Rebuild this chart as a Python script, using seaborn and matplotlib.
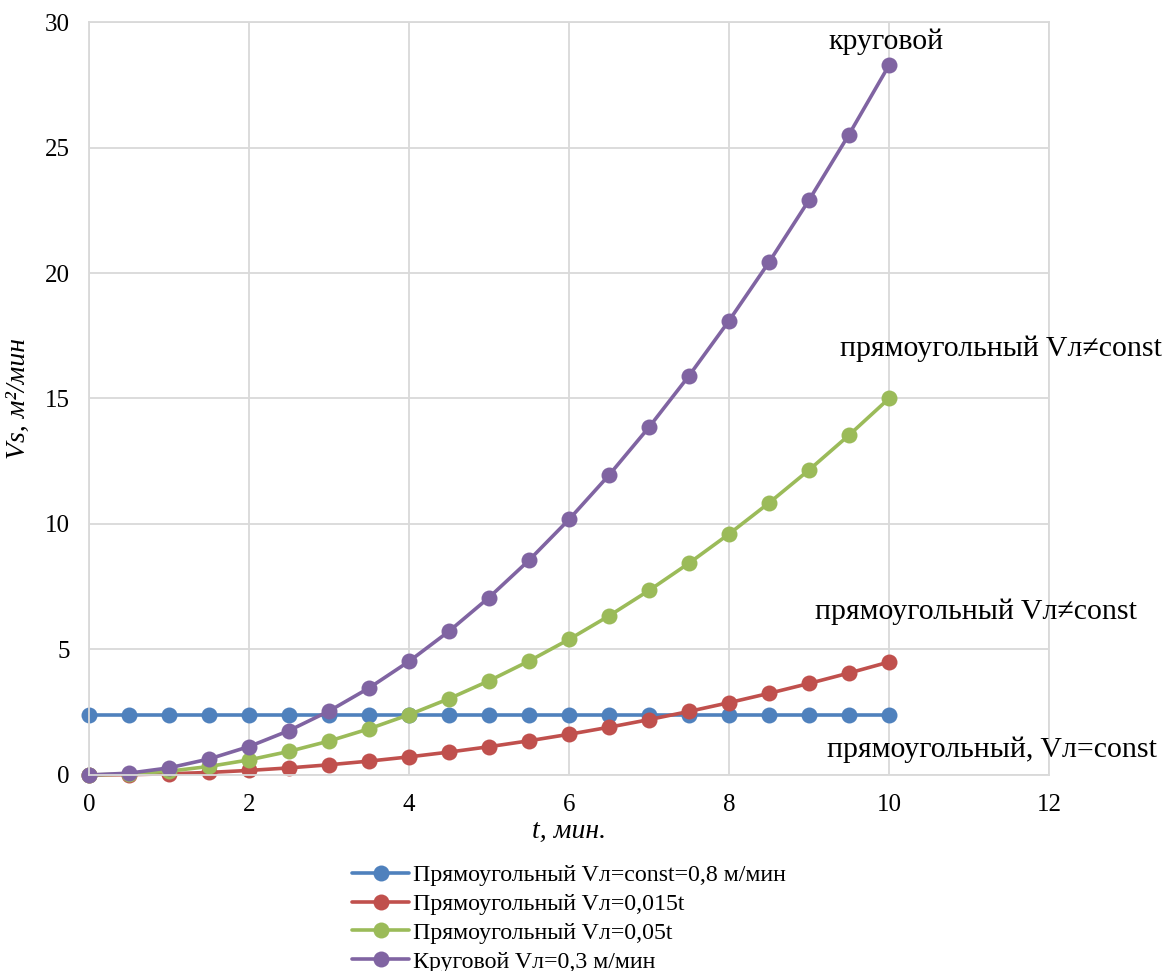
import matplotlib
matplotlib.use("Agg")
import matplotlib.pyplot as plt
import seaborn as sns
import pandas as pd

sns.set_style("white")
plt.rcParams['font.family'] = ['Liberation Serif', 'DejaVu Serif']
plt.rcParams['text.color'] = 'black'
plt.rcParams['axes.labelcolor'] = 'black'
plt.rcParams['xtick.color'] = 'black'
plt.rcParams['ytick.color'] = 'black'

# time, min
t = [0, 0.5, 1, 1.5, 2, 2.5, 3, 3.5, 4, 4.5, 5, 5.5, 6, 6.5, 7, 7.5, 8, 8.5, 9, 9.5, 10]

# Vs, m2/min
rect_const = [2.4] * 21
rect_0015t = [0, 0.011, 0.045, 0.101, 0.18, 0.281, 0.405, 0.551, 0.72, 0.911, 1.125,
              1.361, 1.62, 1.901, 2.205, 2.531, 2.88, 3.251, 3.645, 4.061, 4.5]
rect_005t = [0, 0.038, 0.15, 0.338, 0.6, 0.938, 1.35, 1.838, 2.4, 3.038, 3.75,
             4.538, 5.4, 6.338, 7.35, 8.438, 9.6, 10.838, 12.15, 13.538, 15.0]
circ_03 = [0, 0.071, 0.283, 0.636, 1.131, 1.767, 2.545, 3.464, 4.524, 5.726, 7.069,
           8.553, 10.179, 11.946, 13.854, 15.904, 18.096, 20.428, 22.902, 25.518, 28.274]

series_names = ["Прямоугольный Vл=const=0,8 м/мин",
                "Прямоугольный Vл=0,015t",
                "Прямоугольный Vл=0,05t",
                "Круговой Vл=0,3 м/мин"]
colors = ["#4F81BD", "#C0504D", "#9BBB59", "#8064A2"]

df = pd.concat([
    pd.DataFrame({"t": t, "V": vals, "series": name})
    for name, vals in zip(series_names, [rect_const, rect_0015t, rect_005t, circ_03])
])

fig = plt.figure(figsize=(11.65, 9.71), dpi=100)
ax = fig.add_axes([0.0764, 0.2019, 0.824, 0.7754])

sns.lineplot(data=df, x="t", y="V", hue="series", palette=colors,
             hue_order=series_names, marker="o", markersize=11.5,
             markeredgewidth=0, linewidth=2.6, ax=ax, sort=False)
for ln in ax.lines:
    ln.set_clip_on(False)

ax.set_xlim(0, 12)
ax.set_ylim(0, 30)
ax.set_xticks(range(0, 13, 2))
ax.set_yticks(range(0, 31, 5))
ax.tick_params(labelsize=18, length=0, pad=14)
ax.grid(True, color="#D9D9D9", linewidth=1.3)
ax.set_axisbelow(True)
for s in ax.spines.values():
    s.set_color("#D9D9D9")
    s.set_linewidth(1.3)

ax.set_xlabel("t, мин.", fontsize=20, style="italic", labelpad=2)
ax.set_ylabel("Vs, м²/мин", fontsize=20, style="italic", labelpad=10)

ax.text(9.96, 29.2, "круговой", fontsize=21.5, ha="center", va="center")
ax.text(11.4, 17.0, "прямоугольный Vл≠const", fontsize=21.5, ha="center", va="center",
        clip_on=False)
ax.text(11.09, 6.5, "прямоугольный Vл≠const", fontsize=21.5, ha="center", va="center",
        clip_on=False)
ax.text(11.29, 1.0, "прямоугольный, Vл=const", fontsize=21.5, ha="center", va="center",
        clip_on=False)

leg = ax.legend(loc="upper center", bbox_to_anchor=(0.5, -0.0996), frameon=False,
                fontsize=17.2, handlelength=2.4, handletextpad=0.15, labelspacing=0.30,
                borderaxespad=0.2)

fig.savefig("out.png", dpi=100)
